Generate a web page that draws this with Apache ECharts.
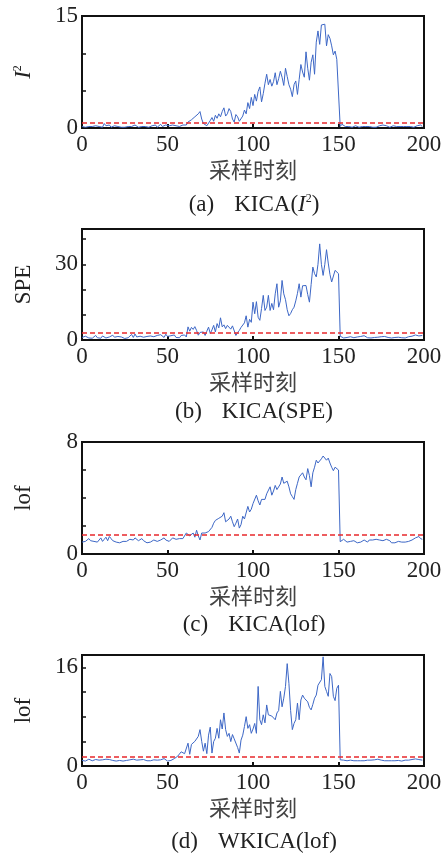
<!DOCTYPE html>
<html><head><meta charset="utf-8">
<script src="https://cdn.jsdelivr.net/npm/echarts@6/dist/echarts.min.js"></script>
<style>html,body{margin:0;padding:0;background:#fff}#c{width:445px;height:853px}</style>
</head><body><div id="c"></div>
<script>
// ---- data (sample index 0..199) ----
const t2Values = [
0.2,0.3,0.1,0.3,0.2,0.4,0.2,0.1,0.3,0.5,
0.2,0.3,0.1,0.6,0.3,0.2,0.4,0.1,0.2,0.3,
0.1,0.2,0.3,0.1,0.2,0.1,0.3,0.2,0.1,0.2,
0.3,0.4,0.2,0.1,0.3,0.2,0.1,0.2,0.3,0.1,
0.2,0.3,0.2,0.4,0.1,0.3,0.5,0.2,0.3,0.4,
0.2,0.3,0.1,0.4,0.2,0.3,0.5,0.2,0.3,0.4,
0.6,0.4,0.8,0.7,1.1,1.0,1.5,1.3,1.9,2.2,
1.2,0.6,0.8,0.3,0.4,1.0,1.4,0.9,1.7,1.3,
1.9,1.5,2.2,2.7,1.6,1.9,2.6,2.2,1.2,0.8,
1.8,1.5,0.9,1.1,1.6,2.4,1.9,3.4,2.6,4.1,
3.0,4.5,3.6,4.9,5.5,3.5,4.6,6.0,7.2,5.8,
6.5,5.6,6.2,7.4,5.8,6.6,7.6,6.8,5.7,8.0,
6.9,5.8,5.2,4.2,5.8,6.3,4.5,6.5,8.5,7.5,
6.8,10.2,8.0,6.4,8.8,9.8,7.2,11.5,13.0,11.2,
13.8,14.0,13.9,11.0,12.5,12.0,11.0,9.8,10.3,9.2,
9.0,
0.2,0.5,0.4,0.2,0.1,0.2,0.3,0.1,0.2,0.3,
0.2,0.1,0.3,0.2,0.4,0.2,0.1,0.2,0.3,0.1,
0.2,0.1,0.2,0.3,0.2,0.4,0.5,0.3,0.2,0.1,
0.2,0.3,0.1,0.2,0.1,0.2,0.3,0.2,0.1,0.2,
0.1,0.2,0.3,0.1,0.2,0.3,0.1,0.4,0.2];
const speValues = [
1.0,0.6,1.5,1.2,0.8,1.4,0.7,1.1,1.8,0.9,
1.3,0.7,1.6,1.0,0.8,1.5,1.2,0.6,1.9,1.1,
0.9,1.4,0.7,1.2,1.0,0.6,1.3,0.9,1.5,2.2,
1.0,2.4,1.2,0.8,1.5,2.0,1.1,0.7,1.4,1.0,
1.6,0.9,1.3,0.8,1.8,1.2,2.1,1.5,1.0,2.3,
1.4,0.8,1.7,1.2,2.0,1.0,1.5,0.9,1.8,1.3,
2.0,1.2,5.2,3.5,5.0,4.2,5.3,3.8,1.9,3.0,
2.5,3.2,1.8,3.5,5.1,2.6,4.0,5.8,3.2,6.5,
4.8,8.8,5.2,6.0,4.5,5.8,5.1,4.3,5.6,5.4,
1.8,3.0,3.8,5.0,4.4,6.8,9.6,5.1,8.2,7.0,
15.0,10.4,15.2,9.0,7.8,12.5,17.7,11.7,13.0,17.7,
11.7,14.5,12.0,18.3,22.3,13.0,15.5,23.6,18.3,16.0,
12.0,9.6,10.5,12.0,13.0,15.5,18.5,22.3,17.0,21.5,
21.0,21.6,18.0,15.0,22.0,28.9,26.3,25.0,30.0,38.1,
30.0,25.6,30.0,35.8,30.5,26.0,23.0,23.6,27.6,28.3,
26.3,
1.5,1.2,0.8,1.4,1.0,0.7,1.3,1.1,0.9,1.6,
1.2,0.8,1.4,1.0,1.7,1.1,0.9,1.3,0.8,1.2,
1.0,1.5,1.1,1.8,1.3,0.9,1.4,1.6,1.0,1.2,
0.8,1.3,1.0,0.7,1.1,1.4,0.9,1.2,0.8,1.0,
1.3,0.9,1.5,1.1,2.0,2.4,1.6,2.2,1.8];
const lofValues = [
0.85,0.8,0.9,1.0,1.1,0.95,1.05,0.9,1.0,0.85,
1.0,1.15,0.9,1.05,1.2,0.95,1.25,1.1,0.95,0.9,
0.85,0.9,0.8,0.85,0.9,0.85,0.9,1.0,1.05,1.1,
1.0,1.15,1.05,0.95,1.0,1.1,0.95,0.85,0.8,0.9,
0.85,0.95,1.0,1.1,0.9,0.85,1.0,1.05,1.15,1.0,
1.1,0.9,1.0,1.15,1.2,1.05,1.0,1.1,1.05,1.1,
1.2,1.5,1.6,1.3,1.4,1.5,1.2,1.7,1.3,1.0,
1.5,1.4,1.5,1.55,1.6,1.65,1.9,2.2,2.4,2.5,
2.55,2.6,2.7,2.95,2.3,2.2,2.5,2.7,2.3,1.95,
2.2,2.5,1.85,2.1,2.7,2.5,2.6,3.4,3.0,3.2,
3.6,3.5,4.2,3.8,3.5,3.9,4.0,3.9,4.3,4.4,
4.8,4.2,4.5,4.9,4.6,4.7,5.0,5.5,5.05,5.0,
5.2,4.8,4.3,4.1,3.9,4.6,5.05,5.5,5.4,5.8,
5.5,5.3,6.1,5.6,4.8,5.8,6.2,6.7,6.5,6.6,
6.8,7.0,7.05,6.7,6.85,6.5,6.2,5.95,6.2,6.1,
6.0,
0.88,0.95,1.05,1.0,0.85,0.95,0.9,1.0,0.95,0.85,
0.8,0.9,0.85,0.95,1.0,0.9,0.85,1.0,1.05,1.0,
0.95,1.05,1.1,1.0,0.9,0.95,1.0,1.05,1.1,0.95,
0.8,0.85,0.8,0.85,0.9,0.8,0.85,0.9,0.85,0.8,
0.9,0.85,1.0,0.95,1.15,1.2,1.25,1.1,1.05];
const wlofValues = [
0.9,0.85,0.8,0.95,1.1,0.9,0.85,1.0,1.05,0.9,
0.95,1.15,1.0,0.9,1.1,1.2,1.05,0.95,0.9,0.85,
0.8,0.85,0.9,0.85,0.8,0.85,0.9,0.95,1.0,1.05,
1.1,1.05,0.95,0.9,1.0,1.15,1.05,0.95,0.85,0.8,
0.85,0.9,1.0,1.05,0.95,0.9,1.0,1.1,1.2,1.05,
0.8,0.75,0.9,1.1,1.2,1.3,1.6,1.9,2.3,2.6,
2.0,2.2,3.7,1.9,3.5,3.8,4.0,4.2,4.8,5.9,
4.0,2.4,3.7,2.0,5.0,6.3,2.1,3.96,4.5,6.1,
4.5,7.5,6.0,8.6,5.9,4.8,5.3,3.96,5.1,4.4,
4.2,3.0,2.1,4.2,5.0,6.4,8.0,6.1,6.7,5.3,
6.0,6.9,5.3,12.9,7.5,6.7,8.3,7.0,9.9,8.3,
8.0,8.1,8.3,7.5,8.6,9.0,12.1,9.6,11.0,12.9,
16.6,13.4,9.0,5.9,6.9,7.5,10.2,7.5,10.7,11.5,
11.0,11.3,10.4,9.5,9.1,10.0,11.0,11.5,13.1,12.9,
14.0,17.7,12.9,12.1,11.3,15.0,14.5,11.3,10.6,12.6,
13.1,
1.0,1.05,0.95,0.9,0.85,0.9,0.95,0.9,0.85,0.8,
0.85,0.9,0.85,0.8,0.85,0.9,0.95,1.0,0.95,0.9,
1.0,1.05,1.1,1.0,0.95,0.9,0.85,0.8,0.85,0.8,
0.85,0.8,0.85,0.8,0.9,0.85,0.8,0.9,0.95,1.0,
0.95,1.0,1.05,1.1,1.15,1.1,1.05,1.0,0.95];
const thresholds = [0.75, 3.0, 1.35, 1.45];
const xTickLabels = [0, 50, 100, 150, 200];
const yShownLabels = [[0, 15], [0, 30], [0, 8], [0, 16]];
const yNames = ['{i|I}{s|2}', 'SPE', 'lof', 'lof'];
const captions = ['(a){g|}KICA({i|I}{s|2})', '(b){g|}KICA(SPE)', '(c){g|}KICA(lof)', '(d){g|}WKICA(lof)'];
const xName = '采样时刻';

// ---- layout ----
const seriesValues = [t2Values, speValues, lofValues, wlofValues];
const layout = [
  {top: 16, height: 112, max: 15, interval: 5, cap: 205},
  {top: 229, height: 111, max: 44, interval: 10, cap: 412},
  {top: 442, height: 112, max: 8, interval: 2, cap: 625},
  {top: 655, height: 111, max: 18, interval: 4, cap: 842}
];
const SERIF = '"Liberation Serif","Times New Roman",serif';
const CJK = '"Noto Sans CJK SC",sans-serif';
const black = '#111';
const txt = '#222';
const FS = 23;
const richSerif = {
  i: {fontFamily: SERIF, fontSize: FS, fontStyle: 'italic', color: txt},
  s: {fontFamily: SERIF, fontSize: 12, color: txt, verticalAlign: 'top'},
  g: {width: 20}
};
const chart = echarts.init(document.getElementById('c'), null, {renderer: 'canvas'});
const option = {
  animation: false,
  backgroundColor: '#fff',
  title: [], grid: [], xAxis: [], yAxis: [], series: []
};
layout.forEach((L, k) => {
  option.grid.push({left: 82, right: 21, top: L.top, height: L.height, show: true,
    borderColor: black, borderWidth: 2, containLabel: false});
  option.xAxis.push({
    gridIndex: k, type: 'value', min: xTickLabels[0], max: xTickLabels[xTickLabels.length - 1], interval: 50,
    axisLine: {show: true, lineStyle: {color: black, width: 2}},
    axisTick: {show: true, inside: true, length: 4, lineStyle: {color: black, width: 2}},
    axisLabel: {margin: 5, fontSize: FS, fontFamily: SERIF, color: txt},
    splitLine: {show: false},
    name: xName, nameLocation: 'middle', nameGap: 31,
    nameTextStyle: {fontFamily: CJK, fontSize: 22, color: '#444'}
  });
  const shown = yShownLabels[k];
  option.yAxis.push({
    gridIndex: k, type: 'value', min: 0, max: L.max, interval: L.interval,
    axisLine: {show: true, lineStyle: {color: black, width: 2}},
    axisTick: {show: true, inside: true, length: 4, lineStyle: {color: black, width: 1.5}},
    axisLabel: {margin: 4, fontSize: FS, fontFamily: SERIF, color: txt, showMaxLabel: true,
      formatter: v => shown.indexOf(v) >= 0 ? String(v) : ''},
    splitLine: {show: false},
    name: yNames[k], nameLocation: 'middle', nameRotate: 90, nameGap: 47,
    nameTextStyle: {fontFamily: SERIF, fontSize: FS, color: txt, rich: richSerif}
  });
  option.series.push({
    type: 'line', xAxisIndex: k, yAxisIndex: k, showSymbol: false, symbol: 'none',
    data: seriesValues[k].map((v, i) => [i, v]),
    lineStyle: {color: '#3d67c6', width: 1}, itemStyle: {color: '#3d67c6'},
    markLine: {symbol: 'none', silent: true, label: {show: false},
      lineStyle: {color: '#e8282c', type: [5, 3], width: 1.5},
      data: [{yAxis: thresholds[k]}]}
  });
  option.title.push({
    text: captions[k], left: 254, top: L.cap - 12, textAlign: 'center', padding: 0,
    textStyle: {fontFamily: SERIF, fontSize: FS, fontWeight: 'normal', color: txt, rich: richSerif}
  });
});
chart.setOption(option);
</script></body></html>
